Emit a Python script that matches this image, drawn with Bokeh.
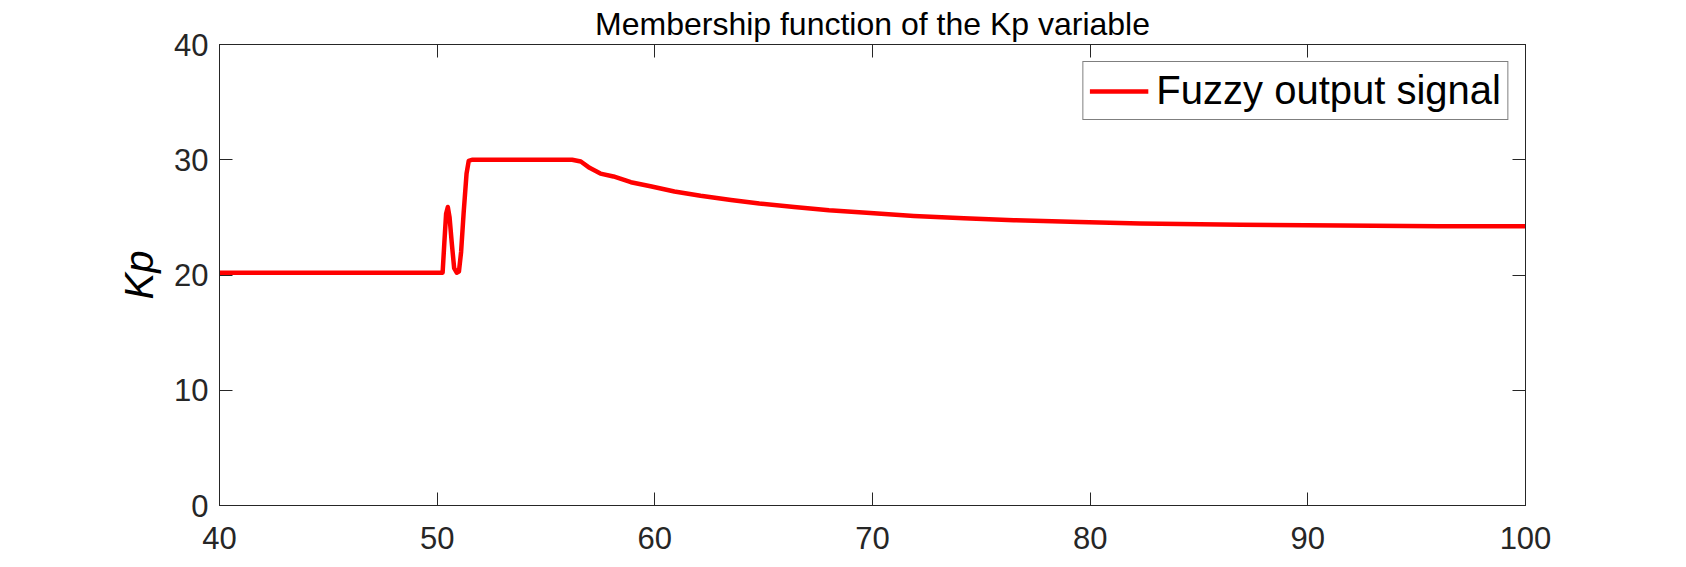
from bokeh.plotting import figure
from bokeh.models import (LinearAxis, FixedTicker, Range1d, Legend, LegendItem,
                          CustomLabelingPolicy)
from bokeh.embed import file_html
from bokeh.resources import INLINE

# ---- data ----
time_s = [40, 50.25, 50.33, 50.41, 50.49, 50.57, 50.67, 50.78, 50.9, 51.0,
          51.1, 51.22, 51.35, 51.45, 51.6, 56.2, 56.6, 57.0, 57.5, 58.1,
          58.9, 59.8, 60.9, 62.1, 63.5, 64.8, 66.4, 68.0, 69.9, 71.9,
          74.2, 76.5, 79.5, 82.3, 86.9, 91.5, 96.0, 100]
kp_out = [20.2, 20.2, 22.8, 25.3, 25.9, 25.0, 22.8, 20.6, 20.2, 20.3,
          22.0, 25.5, 28.8, 29.9, 30.0, 30.0, 29.85, 29.3, 28.8, 28.55,
          28.05, 27.7, 27.25, 26.87, 26.5, 26.2, 25.9, 25.62, 25.37, 25.12,
          24.92, 24.76, 24.6, 24.47, 24.36, 24.29, 24.24, 24.22]
x_ticks = [40, 50, 60, 70, 80, 90, 100]
y_ticks = [0, 10, 20, 30, 40]
title_text = "Membership function of the Kp variable"
y_label = "Kp"
legend_label = "Fuzzy output signal"

AX = "#262626"
FONT = "Liberation Sans"

p = figure(width=1686, height=567, output_backend="svg", toolbar_location=None,
           x_range=Range1d(40, 100), y_range=Range1d(0, 40),
           min_border_left=219, min_border_right=161,
           min_border_top=44, min_border_bottom=62)
p.xaxis.visible = False
p.yaxis.visible = False
p.grid.visible = False
p.outline_line_color = AX
p.outline_line_width = 1
p.background_fill_color = "white"
p.border_fill_color = "white"

p.title.text = title_text
p.title.align = "center"
p.title.text_font = FONT
p.title.text_font_size = "32px"
p.title.text_font_style = "normal"
p.title.text_color = "black"
p.title.standoff = 5
p.title.offset = 0

no_labels = CustomLabelingPolicy(code="""
    try { return new indices.constructor(indices.size, 0) } catch (e) { return indices }
""")

def style(ax, labels=True):
    ax.axis_line_color = AX
    ax.axis_line_width = 1
    ax.major_tick_line_color = AX
    ax.major_tick_in = 13
    ax.major_tick_out = 0
    ax.minor_tick_in = 0
    ax.minor_tick_out = 0
    ax.major_label_text_font = FONT
    ax.major_label_text_color = AX
    ax.major_label_text_font_size = "31px" if labels else "0px"
    if not labels:
        ax.major_label_standoff = 0
        ax.major_label_policy = no_labels

xb = LinearAxis(ticker=FixedTicker(ticks=x_ticks))
style(xb)
xb.major_label_standoff = 21
p.add_layout(xb, "below")

yl = LinearAxis(ticker=FixedTicker(ticks=y_ticks), axis_label=y_label)
style(yl)
yl.major_label_standoff = 11
yl.axis_label_text_font = FONT
yl.axis_label_text_font_size = "40px"
yl.axis_label_text_font_style = "italic"
yl.axis_label_text_color = "black"
yl.axis_label_standoff = 10
p.add_layout(yl, "left")

xt = LinearAxis(ticker=FixedTicker(ticks=x_ticks))
style(xt, labels=False)
p.add_layout(xt, "above")

yr = LinearAxis(ticker=FixedTicker(ticks=y_ticks))
style(yr, labels=False)
p.add_layout(yr, "right")

r = p.line(time_s, kp_out, line_color="#ff0000", line_width=4.5, line_join="round")

leg = Legend(items=[LegendItem(label=legend_label, renderers=[r])],
             location="top_right")
leg.margin = 17
leg.padding = 6
leg.label_text_font = FONT
leg.label_text_font_size = "40px"
leg.label_text_color = "black"
leg.label_standoff = 8
leg.glyph_width = 59
leg.glyph_height = 42
leg.label_height = 42
leg.border_line_color = "black"
leg.border_line_width = 1
leg.background_fill_alpha = 1
p.add_layout(leg, "center")

open("out.html", "w").write(file_html(p, INLINE))
